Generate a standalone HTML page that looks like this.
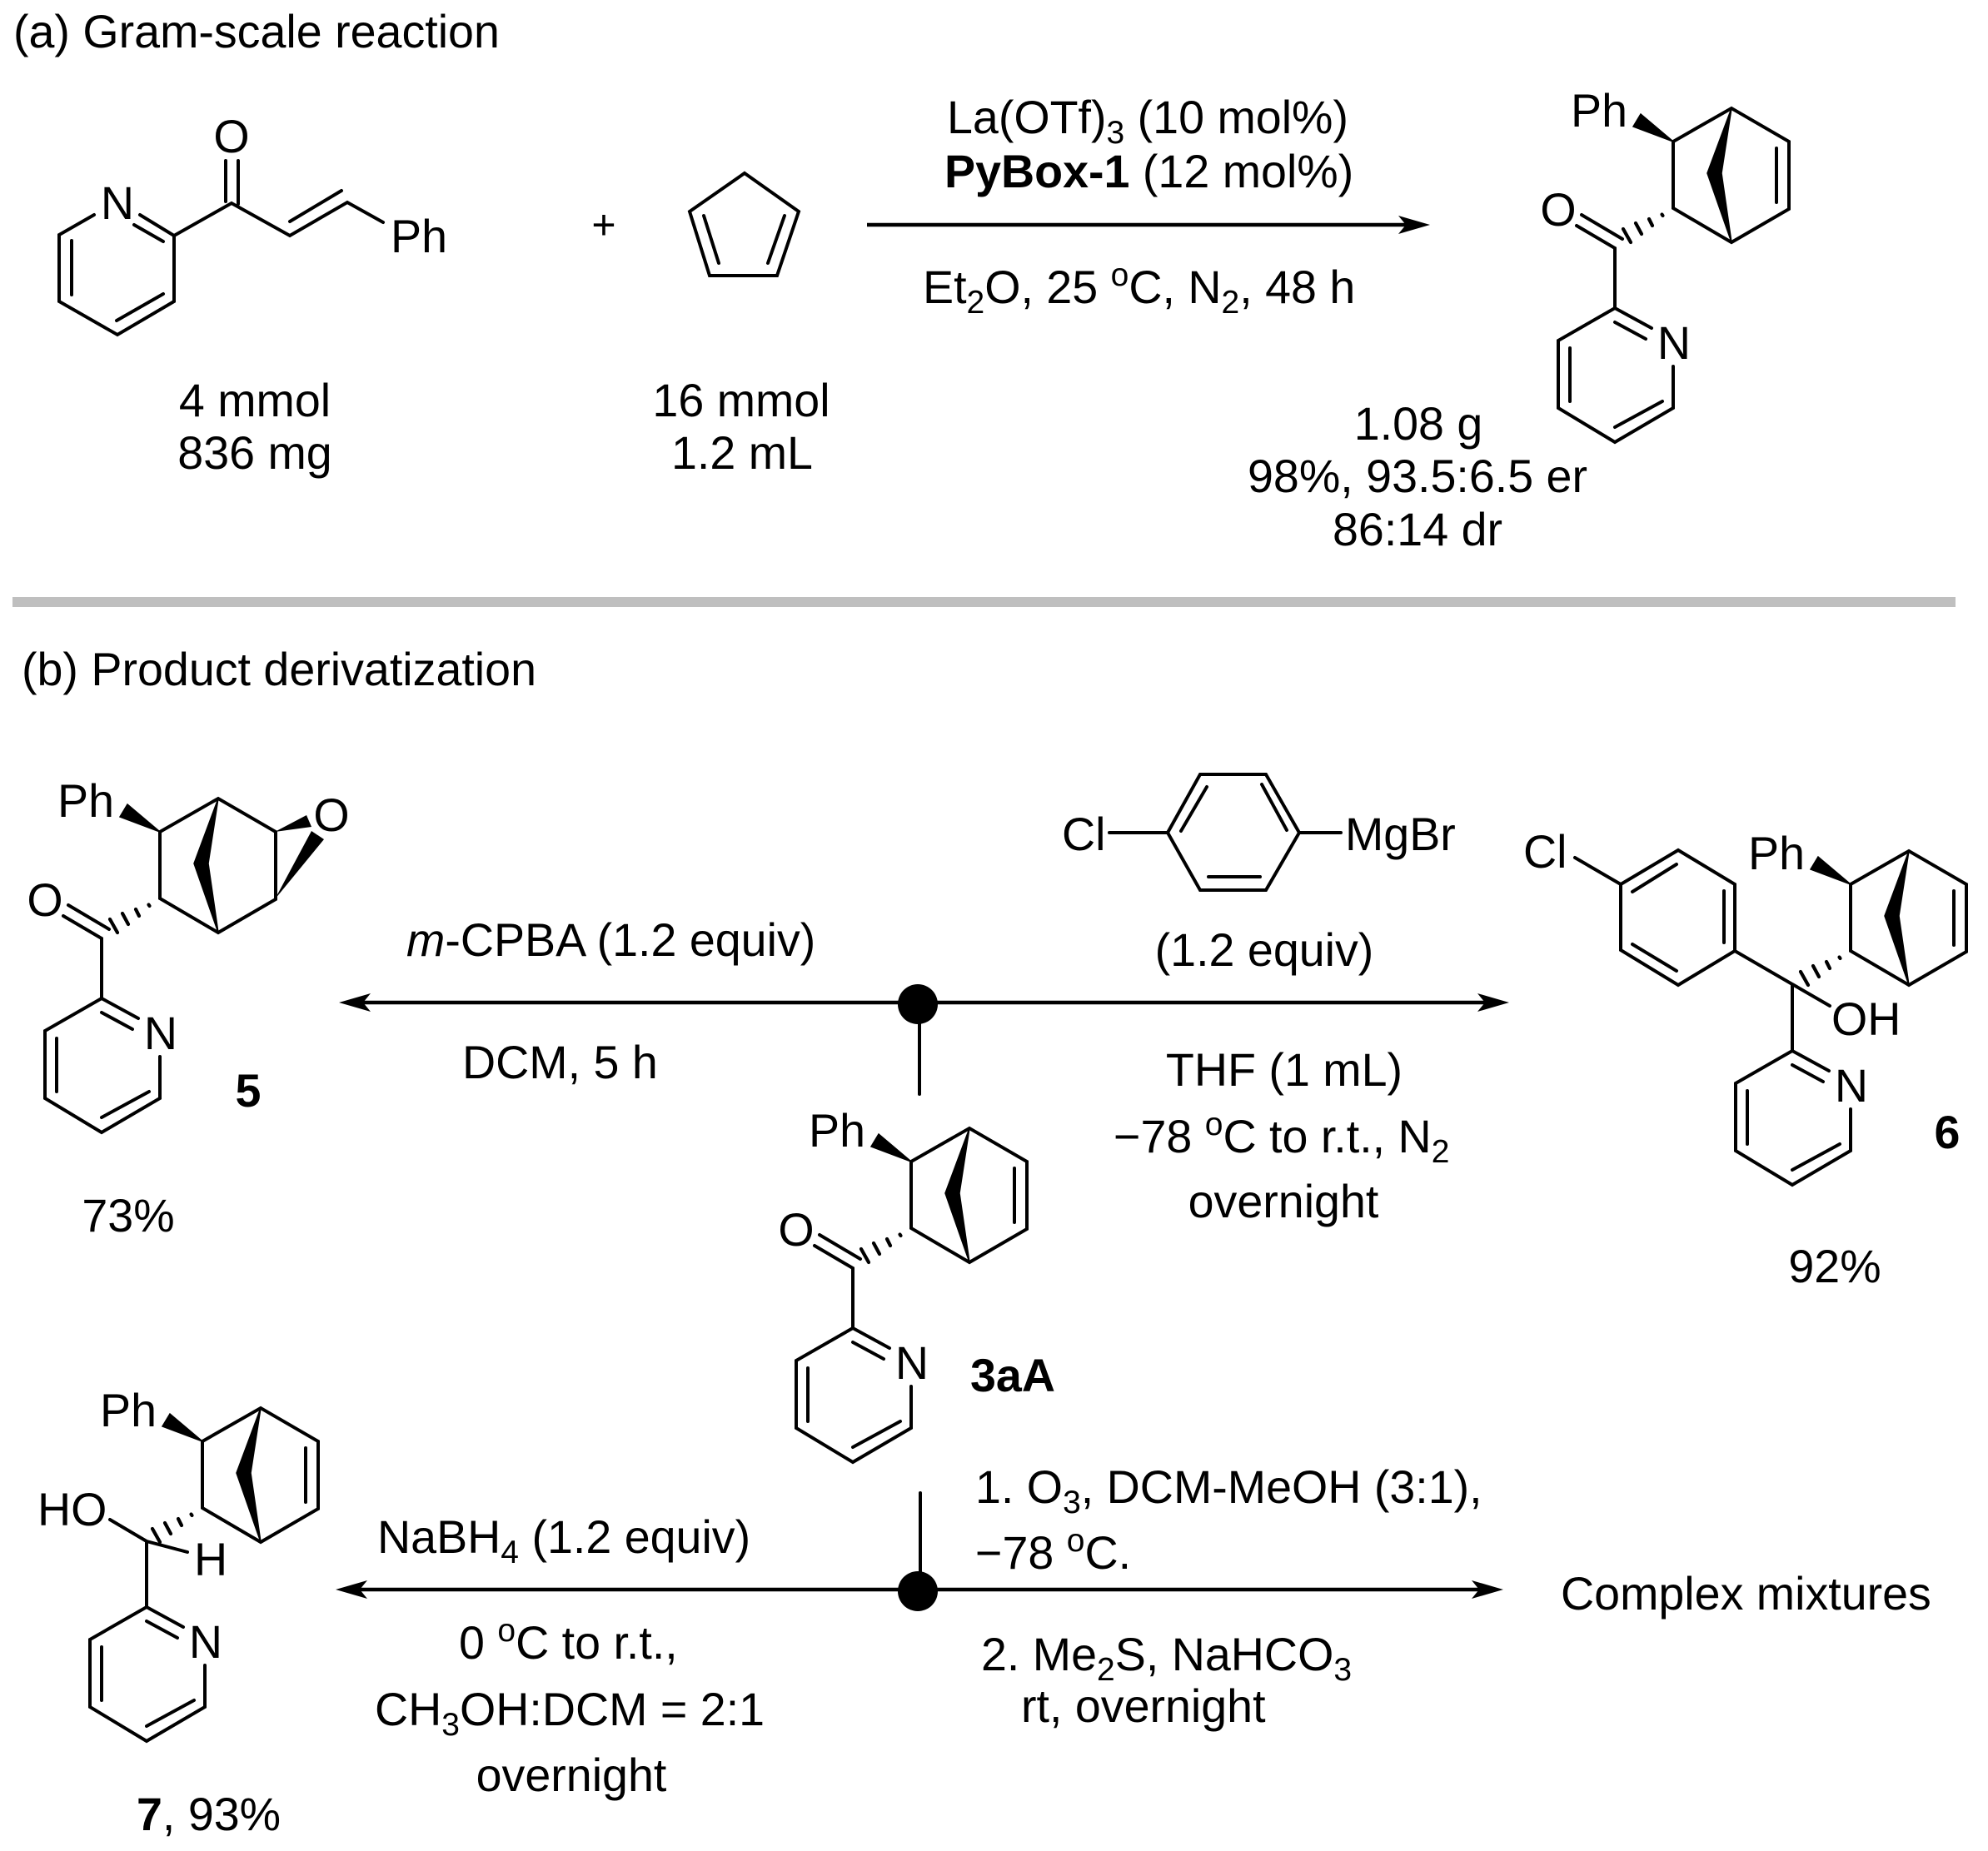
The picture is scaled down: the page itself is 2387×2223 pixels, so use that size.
<!DOCTYPE html>
<html><head><meta charset="utf-8"><style>
html,body{margin:0;padding:0;background:#fff}
svg{display:block}
text{font-family:"Liberation Sans",sans-serif;font-size:55.6px;fill:#000}
.b{font-weight:bold}
.l{fill:none;stroke:#000;stroke-width:4;stroke-linecap:round;stroke-linejoin:miter}
.h{fill:none;stroke:#000;stroke-width:4.2;stroke-linecap:round}
.a{fill:none;stroke:#000;stroke-width:4.5}
tspan.s{font-size:39px}
</style></head><body>
<svg width="2387" height="2223" viewBox="0 0 2387 2223" xmlns="http://www.w3.org/2000/svg">
<defs>
<g id="bridge">
<polygon points="70,-40 41,38 70,121 58,38" fill="#000" stroke="#000" stroke-width="1.5"/>
<polygon points="0,0 -39,-33 -48,-18" fill="#000" stroke="#000" stroke-width="1.5"/>
<path class="l" d="M0,0V80L70,121L139,81V0L70,-40Z"/>
</g>
<g id="hash">
<path class="h" d="M-13.5,87.5L-12.5,89M-29,93L-25,101M-45,98L-38,111M-60,105L-51,121"/>
</g>
<g id="py">
<path class="l" d="M44,24L0,0L-68,39V120L0,161L70,120V70"/>
<path class="l" d="M0,17L37,37M-54,48V112M0,143L57,112"/>
</g>
<g id="co">
<path class="l" d="M-110,88L-61,117M-116,101L-70,128V200"/>
</g>
<g id="ra"><polygon points="0,0 -38,-11 -29,0 -38,11" fill="#000"/></g>
<g id="la"><polygon points="0,0 38,-11 29,0 38,11" fill="#000"/></g>
</defs>

<text x="16" y="57">(a) Gram-scale reaction</text>

<!-- enone -->
<path class="l" d="M113,258L71,282V362L141,402L209,362V283L168,258"/>
<path class="l" d="M86,289V354M140,385L196,353M161,270L196,290"/>
<path class="l" d="M209,283L278,244L348,283L417,243L460,267M348,266L410,229"/>
<path class="l" d="M271,193V242M286,193V245"/>
<text x="141" y="263" text-anchor="middle">N</text>
<text x="278" y="183" text-anchor="middle">O</text>
<text x="469" y="303">Ph</text>
<text x="725" y="287" text-anchor="middle" style="font-size:50px">+</text>
<!-- cp -->
<path class="l" d="M894,208L959,254L933,331H852L828,254Z"/>
<path class="l" d="M845,259L863,316M942,259L922,316"/>

<text x="306" y="500" text-anchor="middle">4 mmol</text>
<text x="306" y="563" text-anchor="middle">836 mg</text>
<text x="890" y="500" text-anchor="middle">16 mmol</text>
<text x="891" y="563" text-anchor="middle">1.2 mL</text>

<!-- top arrow -->
<path class="a" d="M1041,270H1690"/>
<use href="#ra" x="1717" y="270"/>
<text x="1137" y="160">La(OTf)<tspan class="s" dy="12">3</tspan><tspan dy="-12"> (10 mol%)</tspan></text>
<text x="1134" y="225"><tspan class="b">PyBox-1</tspan> (12 mol%)</text>
<text x="1108" y="364">Et<tspan class="s" dy="12">2</tspan><tspan dy="-12">O, 25 </tspan><tspan class="s" dy="-21">o</tspan><tspan dy="21">C, N</tspan><tspan class="s" dy="12">2</tspan><tspan dy="-12">, 48 h</tspan></text>

<!-- top product -->
<g transform="translate(2009,170)">
<use href="#bridge"/><use href="#hash"/><use href="#co"/>
<path class="l" d="M124,8V73"/>
<text x="-123" y="-18">Ph</text>
<text x="-138" y="101" text-anchor="middle">O</text>
</g>
<g transform="translate(1939,370)"><use href="#py"/><text x="71" y="61" text-anchor="middle">N</text></g>
<text x="1703" y="528" text-anchor="middle">1.08 g</text>
<text x="1702" y="591" text-anchor="middle">98%, 93.5:6.5 er</text>
<text x="1702" y="655" text-anchor="middle">86:14 dr</text>

<rect x="15" y="717" width="2333" height="12" fill="#bfbfbf"/>
<text x="26" y="823">(b) Product derivatization</text>

<!-- compound 5 -->
<g transform="translate(192,999)">
<polygon points="138,0 176,-20 182,-6" fill="#000"/>
<polygon points="138,81 182,-1 197,9" fill="#000"/>
<use href="#bridge"/><use href="#hash"/><use href="#co"/>
<text x="-123" y="-18">Ph</text>
<text x="-138" y="101" text-anchor="middle">O</text>
<text x="206" y="-1" text-anchor="middle">O</text>
</g>
<g transform="translate(122,1199)"><use href="#py"/><text x="71" y="61" text-anchor="middle">N</text></g>
<text x="298" y="1329" text-anchor="middle" class="b">5</text>
<text x="154" y="1479" text-anchor="middle">73%</text>

<!-- upper arrows -->
<path class="a" d="M435,1204H1785"/>
<use href="#la" x="407" y="1204"/>
<use href="#ra" x="1812" y="1204"/>
<circle cx="1102" cy="1206" r="24" fill="#000"/>
<path class="l" d="M1104,1220V1314"/>
<text x="488" y="1148"><tspan font-style="italic">m</tspan>-CPBA (1.2 equiv)</text>
<text x="555" y="1295">DCM, 5 h</text>

<!-- Grignard -->
<path class="l" d="M1441,930H1520L1560,1000L1520,1069H1441L1402,1000Z"/>
<path class="l" d="M1449,945L1418,998M1515,942L1545,997M1451,1053H1513M1332,1000H1402M1560,1000H1610"/>
<text x="1275" y="1021">Cl</text>
<text x="1615" y="1021">MgBr</text>
<text x="1518" y="1160" text-anchor="middle">(1.2 equiv)</text>
<text x="1542" y="1304" text-anchor="middle">THF (1 mL)</text>
<text x="1337" y="1384">−78 <tspan class="s" dy="-21">o</tspan><tspan dy="21">C to r.t., N</tspan><tspan class="s" dy="12">2</tspan></text>
<text x="1541" y="1462" text-anchor="middle">overnight</text>

<!-- compound 6 -->
<g transform="translate(2222,1062)">
<use href="#bridge"/><use href="#hash"/>
<path class="l" d="M124,8V73"/>
<text x="-123" y="-18">Ph</text>
</g>
<path class="l" d="M2015,1021L2083,1062V1142L2015,1183L1946,1141V1062Z"/>
<path class="l" d="M1960,1071L2013,1038M2070,1070V1132M1960,1134L2013,1166M1891,1030L1946,1062"/>
<path class="l" d="M2083,1142L2152,1182V1262M2152,1182L2197,1208"/>
<g transform="translate(2152,1262)"><use href="#py"/><text x="71" y="61" text-anchor="middle">N</text></g>
<text x="1829" y="1042">Cl</text>
<text x="2199" y="1243">OH</text>
<text x="2338" y="1379" text-anchor="middle" class="b">6</text>
<text x="2203" y="1540" text-anchor="middle">92%</text>

<!-- 3aA -->
<g transform="translate(1094,1395)">
<use href="#bridge"/><use href="#hash"/><use href="#co"/>
<path class="l" d="M124,8V73"/>
<text x="-123" y="-18">Ph</text>
<text x="-138" y="101" text-anchor="middle">O</text>
</g>
<g transform="translate(1024,1595)"><use href="#py"/><text x="71" y="61" text-anchor="middle">N</text></g>
<text x="1165" y="1671" class="b">3aA</text>

<!-- lower arrows -->
<path class="l" d="M1105,1793V1890"/>
<path class="a" d="M430,1909H1780"/>
<use href="#la" x="403" y="1909"/>
<use href="#ra" x="1805" y="1909"/>
<circle cx="1102" cy="1911" r="24" fill="#000"/>
<text x="1171" y="1805">1. O<tspan class="s" dy="12">3</tspan><tspan dy="-12">, DCM-MeOH (3:1),</tspan></text>
<text x="1171" y="1884">−78 <tspan class="s" dy="-21">o</tspan><tspan dy="21">C.</tspan></text>
<text x="1178" y="2006">2. Me<tspan class="s" dy="12">2</tspan><tspan dy="-12">S, NaHCO</tspan><tspan class="s" dy="12">3</tspan></text>
<text x="1226" y="2068">rt, overnight</text>
<text x="1874" y="1933">Complex mixtures</text>

<text x="453" y="1865">NaBH<tspan class="s" dy="12">4</tspan><tspan dy="-12"> (1.2 equiv)</tspan></text>
<text x="551" y="1992">0 <tspan class="s" dy="-21">o</tspan><tspan dy="21">C to r.t.,</tspan></text>
<text x="450" y="2072">CH<tspan class="s" dy="12">3</tspan><tspan dy="-12">OH:DCM = 2:1</tspan></text>
<text x="686" y="2151" text-anchor="middle">overnight</text>

<!-- compound 7 -->
<g transform="translate(243,1731)">
<use href="#bridge"/><use href="#hash"/>
<path class="l" d="M124,8V73"/>
<text x="-123" y="-18">Ph</text>
</g>
<path class="l" d="M132,1825L176,1851L225,1864M176,1851V1930"/>
<g transform="translate(176,1930)"><use href="#py"/><text x="71" y="61" text-anchor="middle">N</text></g>
<text x="45" y="1832">HO</text>
<text x="233" y="1892">H</text>
<text x="164" y="2198"><tspan class="b">7</tspan>, 93%</text>
</svg>
</body></html>
